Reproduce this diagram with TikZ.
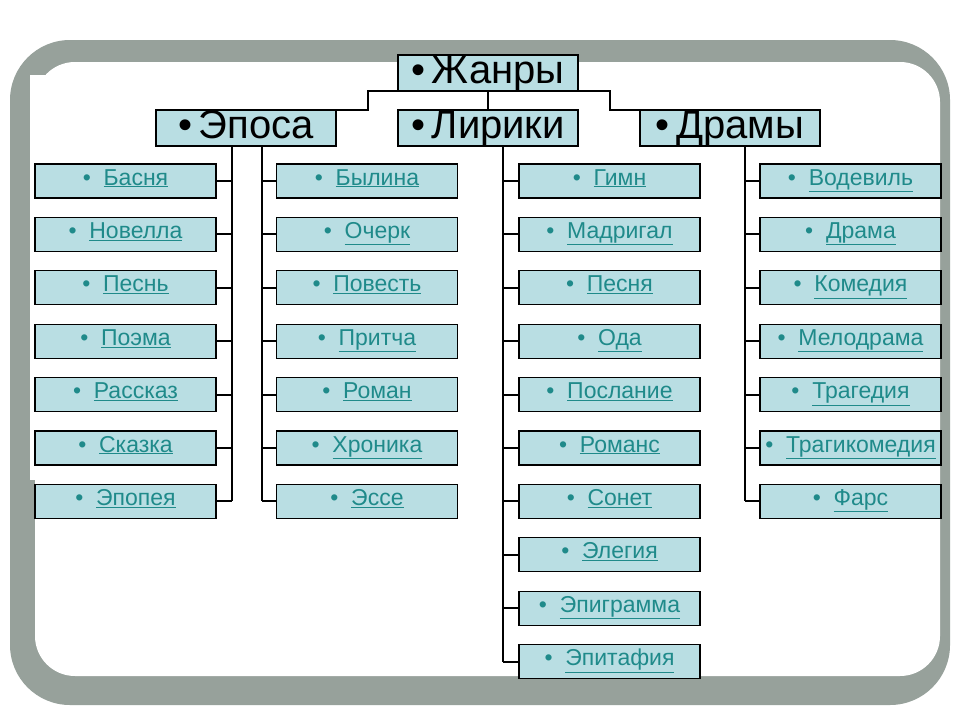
\documentclass[tikz,border=0pt]{standalone}
\usepackage{fontspec}
\setmainfont{Liberation Sans}
\definecolor{boxfill}{HTML}{B9DEE3}
\definecolor{teal2}{HTML}{1F8A8A}
\definecolor{frame}{HTML}{97A19B}
\begin{document}
\begin{tikzpicture}[x=1pt,y=-1pt,
  head/.style={draw=black,line width=1.2pt,fill=boxfill,minimum width=180pt,minimum height=36pt,inner sep=0pt,text height=27pt,text depth=7pt,font=\fontsize{40}{40}\selectfont},
  leaf/.style={draw=black,line width=1.2pt,fill=boxfill,minimum width=181pt,minimum height=34pt,inner sep=0pt,text height=15pt,text depth=7pt,text=teal2,font=\fontsize{23}{23}\selectfont},
  conn/.style={line width=2pt,black}]
\useasboundingbox (0,0) rectangle (960,720);
\fill[white] (0,0) rectangle (960,720);
\fill[frame,rounded corners=60pt] (10,40) rectangle (950,705);
\fill[white,rounded corners=40pt] (35,62) rectangle (940,676);
\fill[white] (30,75) rectangle (60,480);
\node[head] (zh) at (488,73) {•\,Жанры};
\node[head] (ep) at (246,128) {•\,Эпоса};
\node[head] (li) at (488,128) {•\,Лирики};
\node[head] (dr) at (730,128) {•\,Драмы};
\coordinate (ja) at (368,91); \coordinate (jb) at (610,91);
\draw[conn] (ep.east |- 0,110) -- (368,110) -- (ja) -- (jb) -- (610,110) -- (dr.west |- 0,110);
\draw[conn] (zh.south) -- (li.north);
\newcommand\leafrow[4]{\node[leaf] (#1) at (#2,{181+53.4*#3}) {•\ \ \underline{#4}};}
\foreach \t [count=\i from 0] in {Басня,Новелла,Песнь,Поэма,Рассказ,Сказка,Эпопея}{\leafrow{a\i}{125.5}{\i}{\t}}
\foreach \t [count=\i from 0] in {Былина,Очерк,Повесть,Притча,Роман,Хроника,Эссе}{\leafrow{b\i}{367}{\i}{\t}}
\foreach \t [count=\i from 0] in {Гимн,Мадригал,Песня,Ода,Послание,Романс,Сонет,Элегия,Эпиграмма,Эпитафия}{\leafrow{c\i}{609.5}{\i}{\t}}
\foreach \t [count=\i from 0] in {Водевиль,Драма,Комедия,Мелодрама,Трагедия,Трагикомедия,Фарс}{\leafrow{d\i}{850.5}{\i}{\t}}
\draw[conn] (232,146) -- (232,{181+53.4*6});
\draw[conn] (262,146) -- (262,{181+53.4*6});
\draw[conn] (503,146) -- (503,{181+53.4*9});
\draw[conn] (745,146) -- (745,{181+53.4*6});
\foreach \i in {0,...,6}{
  \draw[conn] (a\i.east) -- (232,{181+53.4*\i});
  \draw[conn] (b\i.west) -- (262,{181+53.4*\i});
  \draw[conn] (d\i.west) -- (745,{181+53.4*\i});}
\foreach \i in {0,...,9}{\draw[conn] (c\i.west) -- (503,{181+53.4*\i});}
\end{tikzpicture}
\end{document}
